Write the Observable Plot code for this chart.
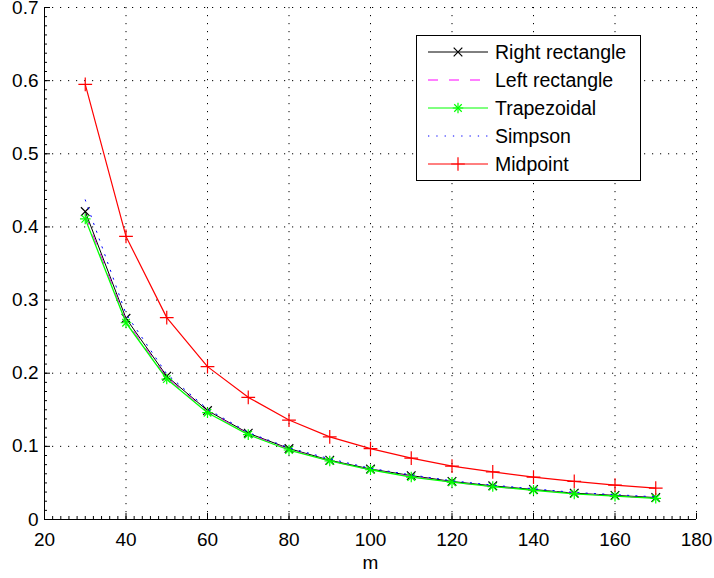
<!DOCTYPE html>
<html><head><meta charset="utf-8">
<script src="https://cdn.jsdelivr.net/npm/d3@7"></script>
<script src="https://cdn.jsdelivr.net/npm/@observablehq/plot@0.6"></script>
<style>
body{margin:0;background:#fff}
svg{font-family:"Liberation Sans",Arial,Helvetica,sans-serif}
</style>
</head><body><div id="chart"></div>
<script>
// ---- data ----
const mValues = [30, 40, 50, 60, 70, 80, 90, 100, 110, 120, 130, 140, 150, 160, 170];
const rightRect = [0.421, 0.275, 0.196, 0.149, 0.118, 0.097, 0.081, 0.069, 0.060, 0.052, 0.046, 0.041, 0.036, 0.033, 0.030];
const leftRect  = [0.416, 0.272, 0.194, 0.148, 0.117, 0.096, 0.080, 0.068, 0.059, 0.051, 0.045, 0.040, 0.036, 0.032, 0.029];
const trapezoid = [0.411, 0.269, 0.192, 0.146, 0.116, 0.095, 0.080, 0.068, 0.058, 0.051, 0.045, 0.040, 0.035, 0.032, 0.029];
const simpson   = [0.437, 0.281, 0.199, 0.151, 0.119, 0.098, 0.083, 0.070, 0.061, 0.053, 0.047, 0.042, 0.037, 0.034, 0.031];
const midpoint  = [0.595, 0.387, 0.276, 0.209, 0.167, 0.136, 0.113, 0.097, 0.084, 0.073, 0.065, 0.058, 0.052, 0.047, 0.043];
const seriesNames = ["Right rectangle", "Left rectangle", "Trapezoidal", "Simpson", "Midpoint"];
const xTicks = [20, 40, 60, 80, 100, 120, 140, 160, 180];
const xTickLabels = ["20", "40", "60", "80", "100", "120", "140", "160", "180"];
const yTicks = [0, 0.1, 0.2, 0.3, 0.4, 0.5, 0.6, 0.7];
const yTickLabels = ["0", "0.1", "0.2", "0.3", "0.4", "0.5", "0.6", "0.7"];
const xLabel = "m";

// ---- styles ----
const styles = {
  "Right rectangle": {stroke: "#000000", dash: null, markers: ["times"], r: 4, w: 1},
  "Left rectangle":  {stroke: "#ff00ff", dash: "10,11", markers: [], r: 0, w: 1},
  "Trapezoidal":     {stroke: "#00ff00", dash: null, markers: ["plus", "times"], r: 3.5, w: 1.3},
  "Simpson":         {stroke: "#0000ff", dash: "1.3,7", markers: [], r: 0, w: 1},
  "Midpoint":        {stroke: "#ff0000", dash: null, markers: ["plus"], r: 4.5, w: 1.2}
};
const valueArrays = [rightRect, leftRect, trapezoid, simpson, midpoint];
const rows = [];
seriesNames.forEach((name, s) => {
  mValues.forEach((m, i) => rows.push({method: name, m, v: valueArrays[s][i]}));
});

const marks = [
  Plot.gridX(xTicks, {stroke: "#000", strokeOpacity: 1, strokeWidth: 1, strokeDasharray: "1.2,6.8"}),
  Plot.gridY(yTicks, {stroke: "#000", strokeOpacity: 1, strokeWidth: 1, strokeDasharray: "1.2,6.8"}),
  Plot.ruleX([20], {stroke: "#000"}),
  Plot.ruleY([0], {stroke: "#000"}),
  Plot.axisX({ticks: d3.range(20, 181, 2), tickSize: -3, tickFormat: () => "", stroke: "#000", label: null}),
  Plot.axisY({ticks: d3.range(0, 0.7001, 0.0125), tickSize: -3, tickFormat: () => "", stroke: "#000", label: null}),
  Plot.axisX({ticks: xTicks, tickSize: -6, tickPadding: 19, tickFormat: (d) => xTickLabels[xTicks.indexOf(d)], fontSize: 19, fill: "#000", stroke: "#000", label: null}),
  Plot.axisY({ticks: yTicks, tickSize: -6, tickPadding: 12, tickFormat: (d) => yTickLabels[yTicks.indexOf(d)], fontSize: 19, fill: "#000", stroke: "#000", label: null}),
  Plot.text([xLabel], {frameAnchor: "bottom", dy: 43, lineAnchor: "middle", fontSize: 19, fill: "#000"})
];
seriesNames.forEach(name => {
  const st = styles[name];
  const data = rows.filter(d => d.method === name);
  marks.push(Plot.line(data, {x: "m", y: "v", stroke: st.stroke, strokeWidth: st.w, strokeDasharray: st.dash}));
  st.markers.forEach(sym => {
    marks.push(Plot.dot(data, {x: "m", y: "v", symbol: sym, r: st.r, stroke: st.stroke, strokeWidth: 1.2, fill: "none"}));
  });
});

const chart = Plot.plot({
  width: 714, height: 578,
  marginLeft: 44, marginRight: 18, marginTop: 7, marginBottom: 59,
  style: {background: "#fff", fontFamily: "Liberation Sans, Arial, sans-serif", fontSize: "19px", color: "#000", overflow: "visible"},
  x: {domain: [20, 180]},
  y: {domain: [0, 0.7]},
  marks
});
document.getElementById("chart").appendChild(chart);

// ---- legend (inside plot, top right) ----
const svg = d3.select(chart);
const lg = svg.append("g").attr("class", "legend").attr("text-anchor", "start");
lg.append("rect").attr("x", 416.5).attr("y", 35.5).attr("width", 224).attr("height", 145)
  .attr("fill", "#fff").attr("stroke", "#000").attr("stroke-width", 1);
const symMap = {times: d3.symbolTimes, plus: d3.symbolPlus};
seriesNames.forEach((name, i) => {
  const st = styles[name];
  const cy = 52 + i * 28;
  lg.append("line").attr("x1", 428).attr("x2", 488).attr("y1", cy).attr("y2", cy)
    .attr("stroke", st.stroke).attr("stroke-width", 1).attr("stroke-dasharray", st.dash);
  st.markers.forEach(sym => {
    lg.append("path").attr("transform", `translate(458,${cy})`)
      .attr("d", d3.symbol(symMap[sym], Math.PI * st.r * st.r)())
      .attr("fill", "none").attr("stroke", st.stroke).attr("stroke-width", 1.2);
  });
  lg.append("text").attr("x", 495).attr("y", cy).attr("dy", "0.35em").attr("text-anchor", "start")
    .attr("font-size", 19.5).attr("fill", "#000").text(name);
});
</script>
</body></html>
